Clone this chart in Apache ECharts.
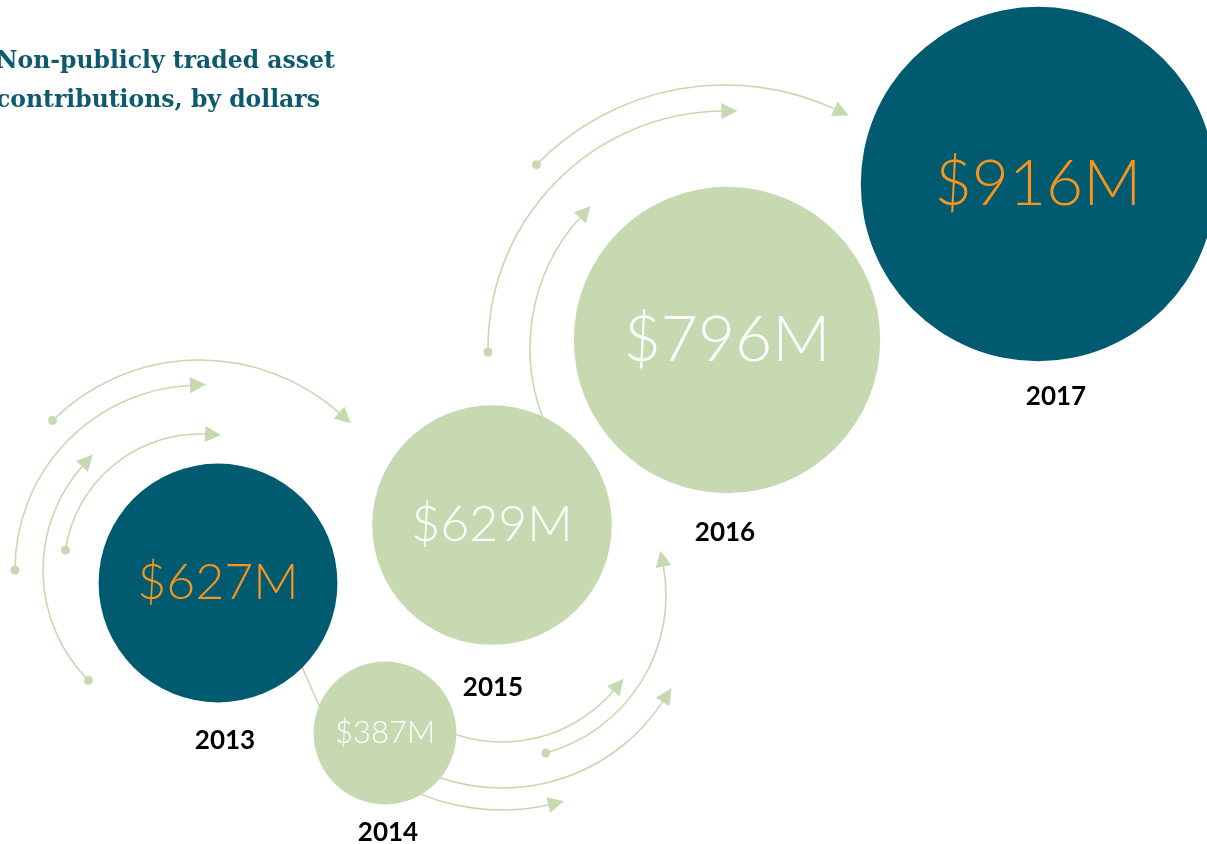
<!DOCTYPE html>
<html>
<head>
<meta charset="utf-8">
<title>Non-publicly traded asset contributions</title>
<script src="https://cdn.jsdelivr.net/npm/echarts@6/dist/echarts.min.js"></script>
<style>
  html, body { margin: 0; padding: 0; background: #fff; }
  #chart { width: 1207px; height: 844px; }
</style>
</head>
<body>
<div id="chart"></div>
<script>
// ===== data =====
const years = ['2013', '2014', '2015', '2016', '2017'];
const values = [627, 387, 629, 796, 916]; // $M

// ===== layout (page pixels) =====
const bubbleXY = [[218, 583], [385, 733], [492, 525], [727, 340], [1038, 184]];
const yearXY   = [[225, 741], [388, 833], [493, 688], [725, 533], [1056, 397]];

// ===== styles =====
const DARK = '#005a70';
const LIGHT = '#c6d9b1';
const ORANGE = '#f7941d';
const isDark = [true, false, false, false, true];
const labelSizes = [50, 31, 50, 64, 64];

// decorative arcs: [cx, cy, r, fromDeg, toDeg, dotAtStart]  (math angles, y up)
const arcs = [
  [200, 570, 210, 134.6, 48, true],
  [200, 570, 185, 180, 92.5, true],
  [200, 570, 157, 224.7, 138, true],
  [200, 570, 136, 171.6, 87, true],
  [502, 595, 147, -125, -40, false],
  [502, 595, 164, -74.5, 10.7, true],
  [502, 595, 193, -120, -33, false],
  [502, 595, 215, -118, -77, false],
  [725, 348, 195, 205, 137.5, false],
  [725, 348, 237, 181, 90.4, true],
  [725, 348, 263, 135.8, 65, true]
];

function arcGraphics(a) {
  const [cx, cy, r, a0, a1, dot] = a;
  const rad = Math.PI / 180;
  const cw = a1 < a0;
  const out = [];
  out.push({
    type: 'arc', z: 0, silent: true,
    shape: { cx, cy, r, startAngle: -a0 * rad, endAngle: -a1 * rad, clockwise: cw },
    style: { stroke: LIGHT, lineWidth: 1.6, fill: null }
  });
  // arrow head at the end
  const t = a1 * rad;
  const px = cx + r * Math.cos(t), py = cy - r * Math.sin(t);
  const dx = cw ? Math.sin(t) : -Math.sin(t);
  const dy = cw ? Math.cos(t) : -Math.cos(t);
  const L = 14, W = 8;
  out.push({
    type: 'polygon', z: 0, silent: true,
    shape: { points: [
      [px + L * dx, py + L * dy],
      [px - 2 * dx - W * dy, py - 2 * dy + W * dx],
      [px - 2 * dx + W * dy, py - 2 * dy - W * dx]
    ] },
    style: { fill: LIGHT }
  });
  if (dot) {
    const s = a0 * rad;
    out.push({
      type: 'circle', z: 0, silent: true,
      shape: { cx: cx + r * Math.cos(s), cy: cy - r * Math.sin(s), r: 4.5 },
      style: { fill: LIGHT }
    });
  }
  return out;
}

const graphics = [].concat(...arcs.map(arcGraphics));
// connector between 2013 and 2014
graphics.push({
  type: 'line', z: 0, silent: true,
  shape: { x1: 290, y1: 640, x2: 330, y2: 730 },
  style: { stroke: LIGHT, lineWidth: 1.6 }
});

const chart = echarts.init(document.getElementById('chart'));
chart.setOption({
  animation: false,
  title: {
    text: 'Non-publicly traded asset\ncontributions, by dollars',
    left: -4, top: 42, padding: 0,
    textStyle: {
      fontFamily: 'DejaVu Serif', fontWeight: 'bold', fontSize: 23.5,
      lineHeight: 39, color: '#0d5a6e'
    }
  },
  grid: { left: 0, right: 0, top: 0, bottom: 0 },
  xAxis: { type: 'value', min: 0, max: 1207, show: false },
  yAxis: { type: 'value', min: 0, max: 844, inverse: true, show: false },
  graphic: { elements: graphics },
  series: [
    {
      type: 'scatter', z: 5, silent: true,
      data: values.map((v, i) => ({
        value: [bubbleXY[i][0], bubbleXY[i][1], v],
        itemStyle: { color: isDark[i] ? DARK : LIGHT, opacity: 1 },
        label: {
          color: isDark[i] ? ORANGE : '#ffffff',
          fontSize: labelSizes[i]
        }
      })),
      symbolSize: d => 0.4 * d[2] - 12,
      label: {
        show: true, position: 'inside',
        fontFamily: 'Lato', fontWeight: 300, opacity: 1,
        formatter: p => '$' + p.value[2] + 'M'
      }
    },
    {
      type: 'scatter', z: 5, silent: true,
      data: years.map((y, i) => [yearXY[i][0], yearXY[i][1], y]),
      symbolSize: 1,
      itemStyle: { color: 'rgba(255,255,255,0)', opacity: 1 },
      label: {
        show: true, position: 'inside', opacity: 1,
        fontFamily: 'Lato', fontWeight: 'bold', fontSize: 26, color: '#000000',
        formatter: p => p.value[2]
      }
    }
  ]
});
</script>
</body>
</html>
